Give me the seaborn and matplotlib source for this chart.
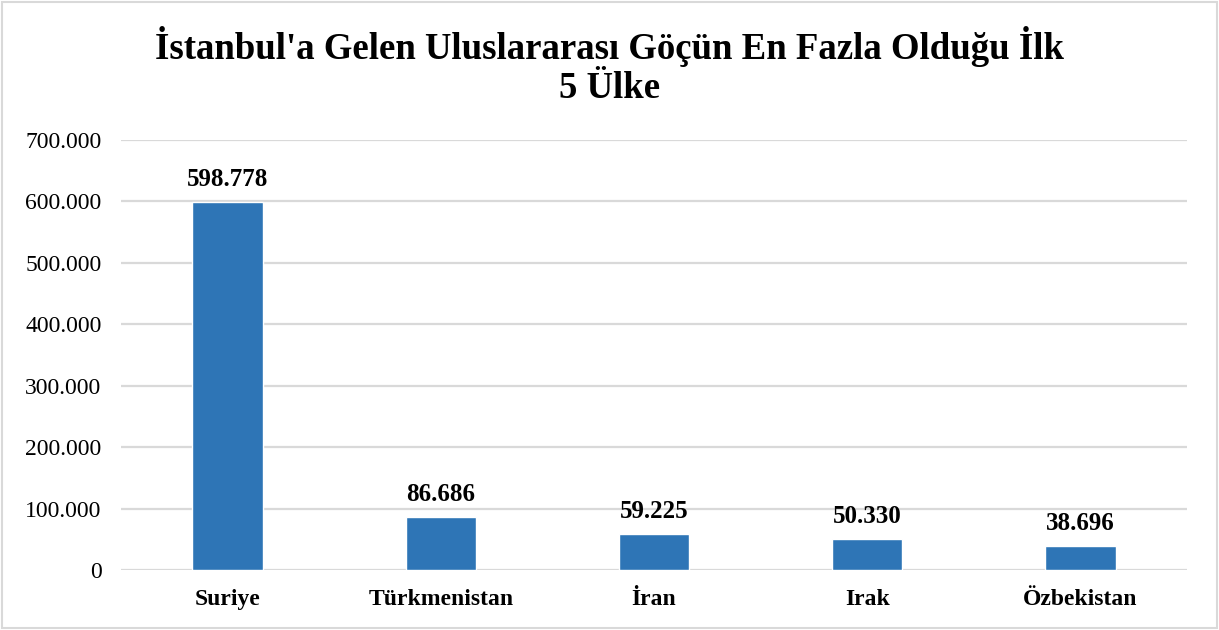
import matplotlib
matplotlib.use("Agg")
import matplotlib.pyplot as plt
import seaborn as sns
import pandas as pd
from matplotlib.patches import Rectangle
from matplotlib.ticker import FuncFormatter

categories = ["Suriye", "Türkmenistan", "İran", "Irak", "Özbekistan"]
values = [598778, 86686, 59225, 50330, 38696]
title = "İstanbul'a Gelen Uluslararası Göçün En Fazla Olduğu İlk\n5 Ülke"

sns.set_theme(style="white")
plt.rcParams['font.family'] = ['Liberation Serif', 'DejaVu Serif']
plt.rcParams['text.color'] = 'black'
plt.rcParams['xtick.color'] = 'black'
plt.rcParams['ytick.color'] = 'black'

df = pd.DataFrame({"country": categories, "value": values})

fig = plt.figure(figsize=(12.19, 6.30), dpi=100)
ax = fig.add_axes([0.0993, 0.0952, 0.8745, 0.6826])
sns.barplot(data=df, x="country", y="value", color="#2e75b6", width=0.33,
            saturation=1, ax=ax, zorder=3)

def fmt(v, pos=None):
    return f"{int(round(v)):,}".replace(",", ".")

ax.set_ylim(0, 700000)
ax.set_yticks(range(0, 700001, 100000))
ax.yaxis.set_major_formatter(FuncFormatter(fmt))
ax.grid(axis="y", color="#d9d9d9", linewidth=1.6, zorder=0)
ax.set_axisbelow(True)
for s in ax.spines.values():
    s.set_visible(False)
ax.tick_params(axis="y", length=0, labelsize=17, pad=14, colors="#000000")
ax.tick_params(axis="x", length=0, labelsize=17, pad=14, colors="#000000")
for lab in ax.get_xticklabels():
    lab.set_fontweight("bold")
ax.set_xlabel("")
ax.set_ylabel("")

for i, v in enumerate(values):
    ax.annotate(fmt(v), (i, v), xytext=(0, 8), textcoords="offset points",
                ha="center", va="bottom", fontsize=18, fontweight="bold",
                color="black")

fig.text(0.5, 0.895, title, ha="center", va="center", fontsize=26.5,
         fontweight="bold", linespacing=1.15, color="black")

fig.patches.append(Rectangle((0.002, 0.003), 0.996, 0.994, transform=fig.transFigure,
                             fill=False, edgecolor="#d9d9d9", linewidth=1.5))

fig.savefig("out.png", dpi=100, facecolor="white")
